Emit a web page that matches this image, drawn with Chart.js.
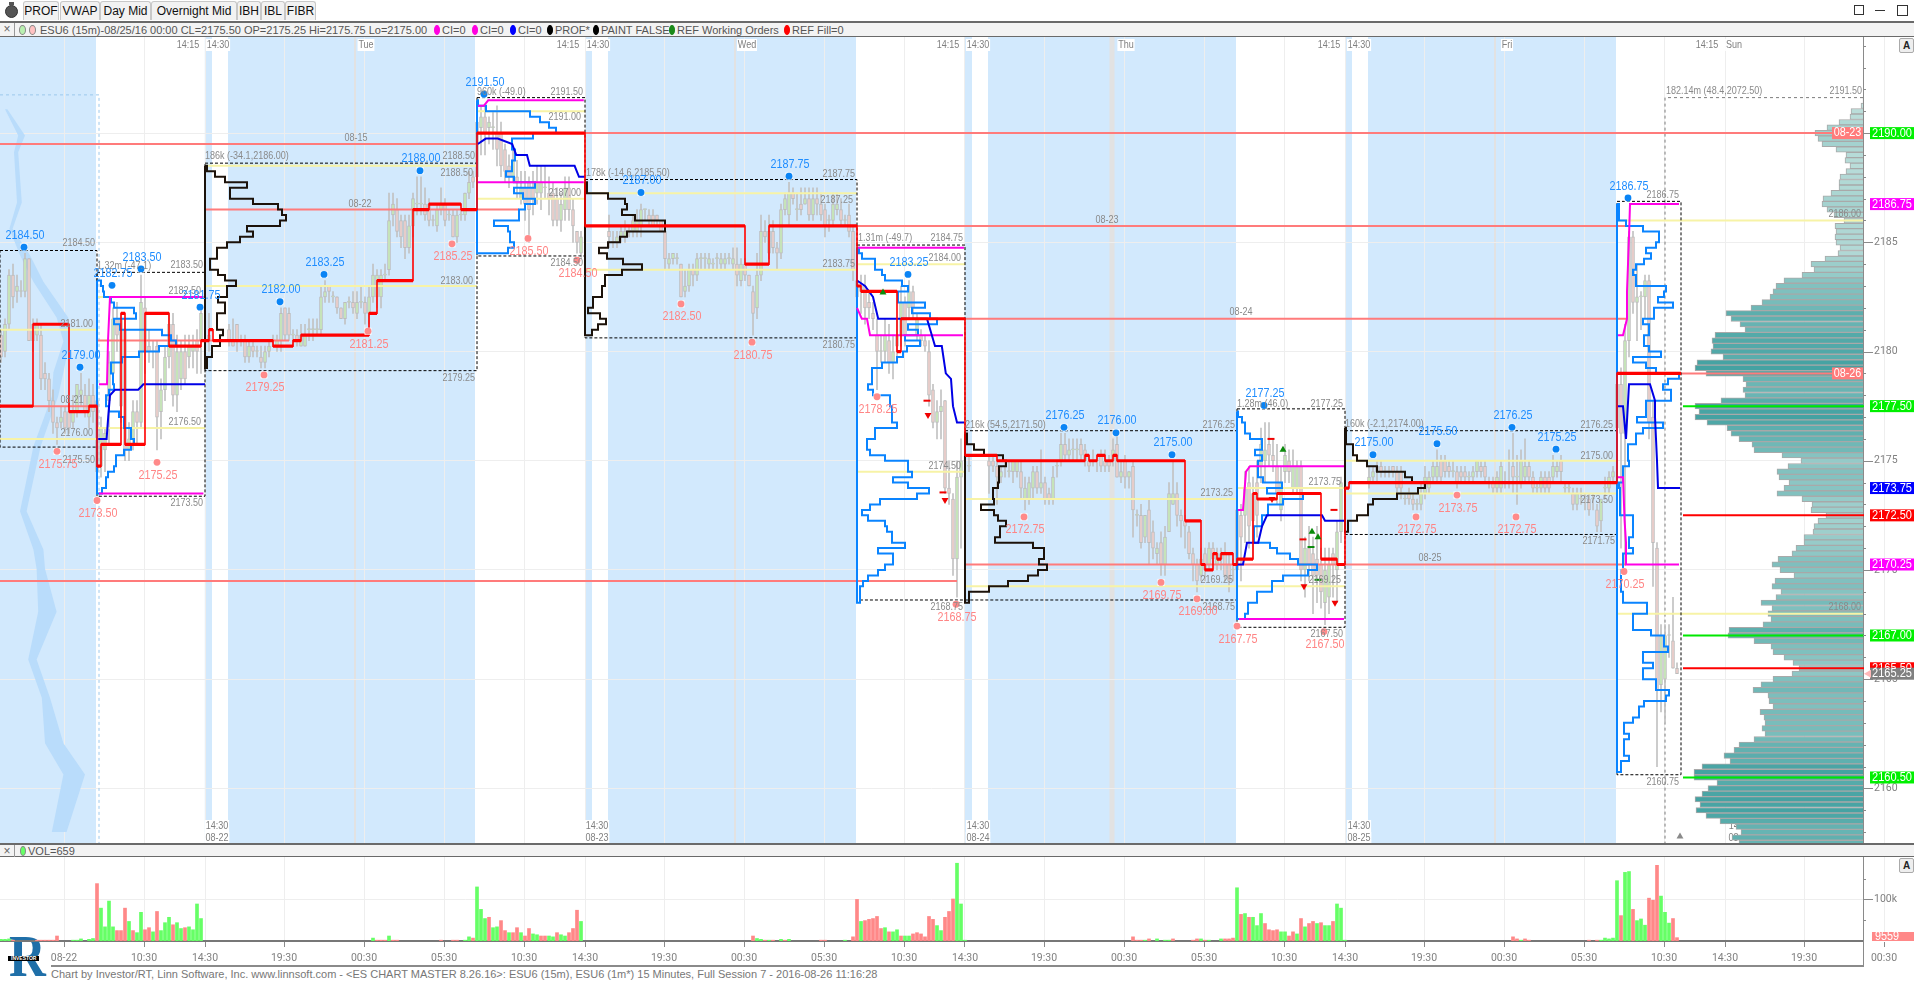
<!DOCTYPE html>
<html><head><meta charset="utf-8">
<script src="https://cdn.jsdelivr.net/npm/chart.js@4"></script>
<style>
html,body{margin:0;padding:0;width:1914px;height:982px;overflow:hidden;background:#fff;font-family:'Liberation Sans',sans-serif}
.abs{position:absolute;white-space:nowrap}
.btn{position:absolute;top:1px;height:19px;line-height:19px;background:#f2f2f2;border:1px solid #c8c8c8;border-bottom:none;border-radius:3px 3px 0 0;text-align:center;font-size:12px;color:#111;box-sizing:border-box}
.bar{position:absolute;left:0;width:1914px;background:#f3f3f3;border-top:2px solid #6a6a6a;border-bottom:1px solid #6a6a6a;box-sizing:border-box}
.lg{position:absolute;top:24px;font-size:11px;line-height:13px;color:#555;white-space:nowrap}
.dot{position:absolute;top:25px;width:6px;height:10px;border-radius:50%;border:1px solid #888;box-sizing:border-box}
.abtn{position:absolute;left:1899px;width:13px;height:13px;border:1px solid #aaa;border-radius:2px;background:#eee;font:bold 10px 'Liberation Sans';text-align:center;line-height:13px;color:#222}
canvas{position:absolute}
</style></head><body>
<script>
/* ---------- price / bar-index ranges ---------- */
const firstBar=-0.25, lastBar=465.5, priceMin=2157.5, priceMax=2194.4;
const priceTickValues=[2158,2159,2160,2161,2162,2163,2164,2165,2166,2167,2168,2169,2170,2171,2172,2173,2174,2175,2176,2177,2178,2179,2180,2181,2182,2183,2184,2185,2186,2187,2188,2189,2190,2191,2192,2193,2194];
const timeTickBars=[15.75,35.75,51,70.75,90.75,110.75,130.75,146,165.75,185.75,205.75,225.75,241,260.75,280.75,300.75,320.75,336,355.75,375.75,395.75,415.75,431,450.75,470.75];
const timeTickLabels=['08-22','10:30','14:30','19:30','00:30','05:30','10:30','14:30','19:30','00:30','05:30','10:30','14:30','19:30','00:30','05:30','10:30','14:30','19:30','00:30','05:30','10:30','14:30','19:30','00:30'];
const overnightBands=[[-0.25,23.75],[50.95,52.75],[56.75,118.5],[146,147.75],[151.75,213.75],[241,242.75],[246.75,308.75],[336,337.75],[341.75,403.75]];
const sessionStripes=[[88.5,2],[183.5,2],[277.75,5],[373.5,2]];

/* ---------- candles: [open, high, low, close] ---------- */
const barsOvernight0=[[2180.75,2181,2179.5,2179.75],[2180,2181.5,2179.75,2181.25],[2181.25,2183.75,2181,2183.5],[2183.5,2184,2182,2182.5],[2182.75,2183.5,2182.25,2183],[2182.75,2183.25,2182.5,2182.75],[2182.75,2184.5,2182.5,2184.25],[2184.25,2184.25,2180.5,2180.5],[2181.25,2181.5,2180,2180.5],[2180.75,2181.5,2180.5,2181.25],[2180.75,2181.25,2178.25,2178.75],[2179,2179.5,2178.25,2178.75],[2178.75,2179,2177.25,2177.75],[2177.75,2178.25,2176.25,2176.75],[2176.75,2177,2175.75,2176.5],[2176.75,2177.5,2176.5,2177],[2177.25,2177.5,2176.25,2176.5],[2177.25,2178,2176.25,2176.5],[2176.75,2178,2176.5,2177.25],[2177.25,2178.5,2177,2178.5],[2178,2179,2177.5,2178.25],[2178,2178.5,2177,2177.25],[2177,2178.75,2176.5,2178],[2178,2178.5,2176.75,2177.25]];
const barsDay1=[[2177.75,2178.25,2173.5,2174.5],[2174.75,2177,2174.25,2176.5],[2175.5,2176.5,2174.5,2176.25],[2177.75,2180,2175.75,2179.5],[2179,2182,2178.5,2181.5],[2181.5,2182.25,2180,2180.75],[2181.5,2181.75,2176.75,2177.5],[2181,2181.5,2175,2175.5],[2175.5,2176.75,2175,2176],[2176,2177.75,2175.5,2177.25],[2177.25,2177.75,2175.75,2176.75],[2176.75,2183.5,2176.5,2182.25],[2182,2182.5,2179,2180],[2180.25,2181,2179.5,2180],[2180,2180.5,2179.25,2180],[2180.25,2180.5,2175.5,2177],[2177.25,2178.75,2176,2178.25],[2178.25,2180.25,2177.75,2179.75],[2179.75,2181.75,2179.25,2181.25],[2181.25,2181.75,2177.5,2178],[2178,2180.75,2177.25,2180],[2178.75,2180.5,2178.25,2180],[2180,2180.75,2178.5,2178.75],[2179.75,2180.75,2179.25,2180.25],[2180,2180.75,2179.25,2180.25],[2180.5,2181,2179,2180],[2180.5,2182,2179,2181.75]];
const barsBreak1=[[2180.5,2181.75,2180,2180.75]];
const barsOvernight1=[[2181,2181.25,2180.25,2180.5],[2180.5,2181.5,2180.25,2180.25],[2181.25,2181.25,2180,2180.5],[2180.5,2180.75,2180.25,2180.5],[2180.5,2180.75,2179.5,2179.75],[2179.75,2180.5,2179.5,2180.25],[2180.25,2180.5,2179.75,2180],[2180,2180.25,2179.75,2180],[2179.75,2180.25,2179.25,2179.5],[2179.5,2180.25,2179.25,2180],[2180,2180.5,2179.75,2180.25],[2180.5,2180.75,2180.25,2180.5],[2180.25,2180.75,2180,2180.5],[2180.5,2182,2180,2181.75],[2182,2182,2180.5,2180.75],[2181.75,2182,2180.5,2180.75],[2180.75,2181,2180.25,2180.75],[2180.75,2181,2180.25,2180.5],[2180.25,2181.25,2180.25,2180.75],[2180.25,2181.25,2180.25,2180.75],[2181,2181.5,2180.5,2181],[2181,2181.5,2180.5,2181],[2181,2181.5,2180.75,2181],[2181,2183,2180.75,2182.5],[2182.5,2183.25,2182.25,2182.75],[2183,2183,2182.25,2182.75],[2182.5,2182.75,2182.25,2182.5],[2182.5,2182.5,2181.75,2182],[2182,2182,2181.5,2181.5],[2181.5,2182.25,2181.25,2182.25],[2182.25,2182.5,2182,2182.25],[2182.25,2182.75,2181.75,2182],[2181.75,2182.75,2181.5,2182.25],[2182.25,2183,2182,2182.25],[2182.25,2182.5,2181.25,2181.75],[2181.75,2183,2181.25,2182.5],[2182.5,2184,2182.25,2183.5],[2182.5,2183.75,2182,2183.5],[2182.5,2183.75,2182,2183.5],[2183.5,2184,2183.25,2183.5],[2183.75,2187.25,2183.5,2186],[2186.25,2187.25,2185.75,2186.75],[2186.5,2187,2185.25,2185.5],[2186,2186.25,2184.75,2185.25],[2186,2186.25,2184.25,2184.75],[2184.75,2186.25,2184.5,2185.75],[2185.75,2187.25,2185.25,2187],[2186.75,2188,2186.25,2186.75],[2186.75,2188,2186.25,2186.75],[2186.75,2187.5,2186,2186.25],[2186.75,2187,2185.75,2186],[2186,2186.25,2185.75,2186],[2185.75,2186.75,2185.5,2186.5],[2186.5,2187.5,2186.25,2186.75],[2186.75,2187,2185.75,2186],[2186.25,2186.5,2186,2186.25],[2186.25,2186.5,2185.25,2185.25],[2185.25,2186.5,2185,2186.25],[2186.25,2186.5,2186,2186.25],[2186.25,2187.25,2186,2187.25],[2187.25,2188.25,2187,2187.75],[2188,2188.25,2187.5,2187.75]];
const barsDay2=[[2188,2191.5,2187.75,2190.5],[2190.25,2191.25,2189,2190.75],[2190.75,2191.25,2189,2190],[2190.25,2190.75,2189.5,2190.5],[2190.25,2191,2189.25,2190.25],[2190,2191.25,2188.5,2189.25],[2190,2190.5,2188,2188.5],[2189.25,2189.5,2187.75,2188.25],[2188.5,2189,2187.5,2188],[2188,2189.25,2187.75,2188.75],[2188,2188.75,2187,2187.75],[2187,2188.25,2186.75,2187.5],[2187.5,2188.25,2186,2186.75],[2187.75,2188,2185,2186.5],[2187.5,2188.25,2186.25,2187],[2187.25,2188.5,2186.75,2187.75],[2187.25,2188.5,2186.5,2187.75],[2187.5,2188.5,2187,2187.5],[2187.25,2188,2186.25,2187],[2187.25,2187.75,2185.75,2186],[2187,2187.5,2185.75,2186],[2186,2187.25,2185.5,2186.75],[2186.5,2188,2186,2187.5],[2187.5,2188,2186,2186.5],[2186.5,2187,2185,2185.75],[2185.5,2185.5,2184.5,2185],[2184.5,2185.5,2184.25,2185.25]];
const barsOvernight2=[[2185.5,2186.25,2184.75,2185.25],[2185,2185.5,2184.75,2185],[2185,2185.5,2184.75,2185.25],[2185.25,2185.75,2185,2185.5],[2185.25,2186,2185,2185.5],[2185.5,2185.75,2185.25,2185.5],[2185.5,2186.25,2185.25,2186],[2185.5,2186.5,2185.25,2186],[2185.75,2186.75,2185.25,2186.5],[2186.5,2186.5,2186,2186.5],[2186.25,2186.5,2185.75,2186],[2186.25,2186.5,2185.75,2185.75],[2186.25,2186.25,2185.75,2186],[2186,2186,2185.5,2185.5],[2185.5,2185.75,2183.75,2184.25],[2184,2184.5,2183.75,2184.25],[2184.25,2184.5,2184,2184.5],[2184.25,2184.5,2184,2184.25],[2184,2184,2182.5,2182.5],[2182.75,2183.75,2182.5,2183],[2183,2184,2182.75,2183.75],[2183.75,2184,2183,2183.5],[2183.5,2184.5,2183.25,2184.25],[2184.25,2184.5,2183.75,2184.25],[2184.25,2184.5,2183.75,2184.25],[2184,2184.5,2183.75,2184.25],[2184,2184.25,2183.75,2184],[2184.25,2184.5,2183.75,2184.25],[2184,2184.5,2183.75,2184.25],[2184,2184.5,2183.75,2184.25],[2184.25,2184.5,2184,2184.25],[2184,2184.75,2183.75,2184.25],[2184,2184.75,2183,2183.5],[2183.25,2184.25,2183,2184],[2184,2184.25,2183.25,2183.5],[2183.5,2183.5,2183,2183],[2182.75,2183,2180.75,2181.75],[2182,2184.5,2181.5,2183.5],[2183.5,2186.25,2183.25,2185.5],[2185.5,2186,2185,2185.25],[2184.5,2186.25,2184.25,2185.5],[2185.5,2186,2184.5,2184.75],[2184.75,2185,2183.75,2184.5],[2184.5,2186.75,2184.25,2186.5],[2186.5,2187.25,2186.25,2187],[2186.25,2187.75,2185.75,2187.25],[2187.25,2187.5,2186.75,2187],[2186.5,2187.25,2186,2186.5],[2186.75,2187.5,2186.25,2186.5],[2186.75,2187.5,2186.75,2187],[2187,2187.5,2186,2186.25],[2186.25,2187.5,2186,2187],[2187,2187.5,2186.25,2186.75],[2186.75,2187.25,2186,2186.25],[2186.5,2186.75,2185.25,2185.75],[2186,2186.25,2185.5,2186],[2186,2187.25,2185.75,2186.75],[2186.5,2187.25,2186.25,2186.75],[2186.5,2187,2185.75,2186],[2186,2186.25,2185.75,2186],[2186.25,2186.75,2185.25,2185.5],[2185.5,2185.75,2183.25,2183.75]];
const barsDay3=[[2183.25,2183.75,2181.75,2182.5],[2182.75,2183.5,2181.75,2183],[2183,2183.5,2181.25,2182],[2182.25,2182.75,2181.5,2182],[2181.75,2182.25,2181,2181.5],[2180.75,2181.5,2178.25,2180],[2180,2180.75,2179.5,2180],[2180,2181.5,2179.5,2180.75],[2180.5,2181.25,2179,2179.5],[2179.5,2180.75,2178.75,2180],[2180.75,2181.5,2179.75,2180.25],[2180.75,2183,2180.25,2182.25],[2182.25,2182.5,2180.25,2180.75],[2182,2183.25,2181.5,2182.75],[2182.75,2183,2181.5,2182],[2180.75,2181.75,2180.5,2181.5],[2180.75,2181,2180.25,2180.5],[2180.5,2180.75,2180,2180.25],[2180,2180.5,2177.5,2178],[2178.25,2178.5,2176.5,2176.75],[2176.75,2177.75,2176,2177.25],[2177.25,2178.25,2176,2177.5],[2177.75,2177.75,2173.5,2173.75],[2173.75,2175,2173,2173.5],[2173.25,2173.5,2169.75,2170.5],[2170.5,2175,2168.75,2174.25],[2174.25,2176,2171,2175]];
const barsBreak3=[[2174.75,2175.25,2174.5,2174.75]];
const barsOvernight3=[[2175,2175.25,2173.5,2174.75],[2175,2175.25,2174.5,2174.75],[2174.75,2175,2173,2174.25],[2174.25,2174.75,2174,2174.5],[2174.75,2175,2174.25,2174.75],[2174.5,2175,2174.25,2174.5],[2174.5,2175,2174,2175],[2174.5,2175,2174.25,2175],[2174.5,2175,2173.25,2173.75],[2173.25,2174.25,2172.75,2173.75],[2173.25,2174.25,2173,2174],[2173.75,2174.75,2173.25,2174.5],[2174.5,2174.75,2173.5,2173.75],[2173.75,2175.5,2173.5,2174],[2174,2174.25,2173,2173.25],[2173.5,2173.75,2173,2173.25],[2173.25,2174.75,2173,2174.25],[2174.75,2175,2174.25,2174.75],[2175,2176.25,2174.75,2175.75],[2175.75,2176.25,2175,2175.25],[2175.25,2176,2175,2175.5],[2175.5,2176,2175,2175.5],[2175.5,2176,2175,2175.5],[2175.75,2176,2175,2175.25],[2175.5,2175.75,2174.75,2175],[2175,2175.25,2174.5,2174.75],[2175,2175.5,2174.75,2175],[2175,2175.25,2174.5,2175],[2175.25,2175.5,2174.5,2174.75],[2175,2175.5,2174.5,2174.75],[2175,2175.25,2174.5,2174.75],[2175,2176,2174.75,2175.5],[2175.75,2176.25,2174.25,2174.25],[2174.25,2175,2174,2174.5],[2175,2175.25,2173.75,2174.25],[2174.25,2174.5,2173.75,2174.5],[2174.75,2175,2171.5,2172.75],[2172.5,2172.75,2172,2172.5],[2172.5,2173,2171,2171.25],[2171.5,2172.5,2171.25,2172.5],[2172.75,2173.25,2170.25,2171.25],[2171.75,2172.25,2170.5,2171],[2170.75,2171.25,2170.25,2171],[2171.25,2171.75,2169.75,2170.25],[2170.25,2172,2169.75,2171.5],[2171.75,2174,2171.75,2173.5],[2173,2175,2173,2173.5],[2173.5,2174,2172,2172.5],[2172.5,2172.75,2171.5,2172.25],[2172.25,2172.5,2171,2172],[2171.75,2172,2170.5,2170.75],[2170.75,2171,2169.5,2170.25],[2170.25,2170.5,2169,2169.5],[2169.75,2171,2169.5,2170.5],[2170.75,2171,2169.5,2170],[2170.25,2171.25,2170,2171],[2171,2171.25,2170.25,2170.5],[2170.25,2171,2170,2170.75],[2170.5,2171,2170,2170.75],[2170.75,2171.25,2169.5,2169.75],[2170.25,2170.75,2169,2169.5],[2170,2170.5,2169.5,2170]];
const barsDay4=[[2170,2173.25,2168.75,2172.75],[2172.5,2173,2169.5,2171.5],[2172.5,2174.5,2171.25,2173.75],[2174,2174.75,2171,2172],[2173.5,2174.25,2170.5,2172.25],[2174,2175,2171.5,2172.5],[2174.75,2176.5,2174,2175.75],[2175,2176.75,2174,2175.5],[2175.75,2176.75,2174.75,2175.25],[2175.25,2176,2174.5,2175],[2174.75,2175.75,2173,2173.5],[2172.75,2174.75,2172.25,2174],[2174.5,2175.75,2174,2175.25],[2175,2175.5,2174,2174.5],[2173.75,2175.5,2173.5,2174.75],[2173.75,2175,2173.5,2174.75],[2174.75,2175,2169.5,2170],[2170,2171.5,2168.75,2171],[2171,2172,2169.5,2170.25],[2170.75,2171.5,2168,2169.75],[2170.5,2172,2168.5,2169.75],[2170.25,2171,2168.25,2169],[2168.5,2171,2167.5,2170],[2168.75,2171,2168,2170.25],[2170.75,2171,2168.75,2170.25],[2170,2172.25,2168.5,2171.75],[2171.75,2174.25,2171.25,2174]];
const barsOvernight4=[[2174,2174.75,2173.75,2174.25],[2174.25,2174.75,2174,2174.5],[2174.5,2175,2174,2174.75],[2174.75,2175,2174.25,2174.5],[2174.5,2174.75,2174.25,2174.5],[2174.5,2174.75,2174.25,2174.5],[2174.75,2174.75,2174.25,2174.5],[2174.5,2174.75,2173.5,2173.75],[2174.5,2174.75,2173.25,2173.75],[2173.25,2173.5,2173,2173.25],[2173.5,2173.75,2173,2173.25],[2173.25,2173.5,2172.75,2173],[2173,2173.25,2172.75,2173],[2173,2174,2172.75,2173.5],[2173.5,2174.75,2173.25,2174.25],[2173.75,2174.5,2173.5,2174.25],[2174.25,2175,2174,2174.75],[2174.25,2175.5,2174,2174.75],[2175,2175.25,2174,2174.25],[2175,2175.25,2174.25,2174.5],[2174.75,2175,2174.25,2174.5],[2174.5,2175,2174.25,2174.5],[2174.5,2174.75,2173.75,2174],[2174.5,2174.75,2174,2174.25],[2174.5,2174.75,2174,2174.25],[2174.25,2174.5,2174,2174.25],[2174.25,2174.75,2174,2174.5],[2174.5,2175,2174.25,2175],[2174.75,2175,2174.25,2174.5],[2174.75,2175,2174,2174.25],[2174,2174.25,2173.75,2174],[2174,2174.25,2173.5,2173.75],[2173.75,2174.5,2173.5,2174.25],[2173.75,2175,2173.5,2174.75],[2174,2174.5,2173.75,2174],[2174,2175.5,2173.75,2174],[2174.75,2176.25,2173.5,2174.25],[2174.25,2175.25,2173,2174.25],[2174,2175.5,2173.75,2175],[2174.25,2176,2174,2174.75],[2174.75,2175,2174,2174.25],[2174.25,2174.5,2173.5,2173.75],[2173.75,2174,2173.5,2173.75],[2173.75,2174.5,2173.5,2174.25],[2174.25,2174.5,2173.5,2173.75],[2174.25,2174.5,2173.5,2173.75],[2174.25,2175.25,2174,2174.75],[2174.5,2175,2174.25,2174.75],[2175,2175.25,2174,2174.5],[2173.75,2174,2173.5,2173.75],[2173.75,2174,2173.5,2173.75],[2173.5,2173.75,2172.75,2173],[2173,2173.75,2172.75,2173.5],[2173.25,2173.75,2173,2173.25],[2173.25,2173.5,2172.75,2173.25],[2173.25,2173.5,2172.5,2172.75],[2173.25,2173.5,2172.75,2173.25],[2172.75,2173,2171.75,2172],[2172.25,2173.25,2171.75,2173.25],[2173.75,2174.25,2173.25,2173.75],[2173.75,2174.5,2173.5,2174.25],[2174.25,2174.75,2174,2174.5]];
const barsDay5=[[2176.5,2179,2173.75,2178.5],[2178.5,2179.25,2171,2176.25],[2176.25,2181.25,2170.25,2180.5],[2180.5,2185.5,2179.75,2185.25],[2185.25,2185.5,2181.75,2182.25],[2182.25,2184,2180.5,2182.5],[2182.5,2182.75,2181,2182.5],[2182.5,2183.5,2181.5,2183.25],[2183.25,2183.5,2176,2176.75],[2177,2177.75,2169.25,2171.25],[2171,2171.25,2161,2164.5],[2164.75,2167.5,2163.5,2167],[2165,2167.5,2163,2167],[2167,2167.5,2166,2167],[2166.75,2168.75,2165.5,2165.5],[2165.5,2165.75,2165.25,2165.25]];
const candleRuns=[[0,barsOvernight0],[24,barsDay1],[52,barsBreak1],[57,barsOvernight1],[119,barsDay2],[152,barsOvernight2],[214,barsDay3],[242,barsBreak3],[247,barsOvernight3],[309,barsDay4],[342,barsOvernight4],[404,barsDay5]];

/* ---------- volume in thousands: [bar, volume] ---------- */
const volUp=[[0,4],[1,4],[2,5],[18,2],[19,2],[20,5],[22,4],[23,6],[25,79],[26,34],[27,96],[28,34],[32,47],[34,20],[35,69],[38,22],[40,25],[41,44],[42,57],[44,44],[45,30],[47,34],[48,27],[49,89],[50,54],[93,7],[97,12],[116,2],[117,10],[119,130],[120,76],[121,54],[123,32],[124,34],[127,20],[130,20],[133,17],[134,15],[137,12],[138,10],[140,15],[141,12],[145,47],[189,6],[190,4],[192,2],[195,4],[197,4],[211,2],[215,47],[221,32],[223,22],[224,27],[226,12],[227,12],[234,37],[235,25],[239,187],[240,89],[241,2],[286,2],[289,5],[291,2],[292,2],[300,5],[302,2],[305,5],[309,128],[311,66],[313,57],[314,37],[315,66],[320,22],[321,22],[324,17],[326,34],[329,42],[331,37],[332,37],[334,89],[335,79],[336,2],[380,2],[400,2],[401,7],[402,5],[403,7],[404,145],[406,165],[407,167],[409,49],[410,53],[411,38],[415,108],[416,69],[417,43]];
const volDown=[[3,2],[9,2],[10,2],[11,2],[12,2],[13,2],[14,12],[24,138],[29,25],[30,25],[31,79],[33,25],[36,27],[37,32],[39,71],[43,39],[46,32],[94,2],[95,2],[96,2],[98,2],[99,2],[110,2],[113,2],[114,2],[118,7],[122,57],[125,49],[126,25],[128,20],[129,32],[131,12],[132,30],[135,12],[136,12],[139,20],[142,20],[143,30],[144,74],[188,12],[191,2],[193,2],[196,2],[205,2],[206,2],[213,10],[214,100],[216,49],[217,52],[218,54],[219,59],[220,30],[222,22],[225,12],[228,17],[229,20],[230,17],[231,10],[232,59],[233,52],[236,57],[237,71],[238,101],[283,10],[284,2],[285,2],[287,5],[293,5],[298,2],[299,5],[301,2],[306,5],[307,5],[308,7],[310,64],[312,57],[316,42],[317,27],[318,25],[319,27],[322,12],[323,22],[325,54],[327,42],[328,47],[330,44],[333,47],[378,10],[379,5],[381,5],[382,2],[397,2],[399,2],[405,61],[408,76],[412,103],[413,98],[414,182],[418,54],[419,8]];
const volTickValues=[50,100,150];

/* ---------- composite volume at price, top to bottom ---------- */
const profilePrices=[2191.5,2191.25,2191,2190.75,2190.5,2190.25,2190,2189.75,2189.5,2189.25,2189,2188.75,2188.5,2188.25,2188,2187.75,2187.5,2187.25,2187,2186.75,2186.5,2186.25,2186,2185.75,2185.5,2185.25,2185,2184.75,2184.5,2184.25,2184,2183.75,2183.5,2183.25,2183,2182.75,2182.5,2182.25,2182,2181.75,2181.5,2181.25,2181,2180.75,2180.5,2180.25,2180,2179.75,2179.5,2179.25,2179,2178.75,2178.5,2178.25,2178,2177.75,2177.5,2177.25,2177,2176.75,2176.5,2176.25,2176,2175.75,2175.5,2175.25,2175,2174.75,2174.5,2174.25,2174,2173.75,2173.5,2173.25,2173,2172.75,2172.5,2172.25,2172,2171.75,2171.5,2171.25,2171,2170.75,2170.5,2170.25,2170,2169.75,2169.5,2169.25,2169,2168.75,2168.5,2168.25,2168,2167.75,2167.5,2167.25,2167,2166.75,2166.5,2166.25,2166,2165.75,2165.5,2165.25,2165,2164.75,2164.5,2164.25,2164,2163.75,2163.5,2163.25,2163,2162.75,2162.5,2162.25,2162,2161.75,2161.5,2161.25,2161,2160.75,2160.5,2160.25,2160,2159.75,2159.5,2159.25,2159,2158.75,2158.5,2158.25,2158,2157.75,2157.5];
const profileVolumes=[1,3,13,14,25,37,49,46,42,28,18,19,14,18,24,25,25,33,41,42,37,30,20,29,28,29,28,24,26,39,53,50,62,80,88,91,94,102,113,138,133,124,119,149,152,151,153,141,167,169,158,121,118,121,119,143,169,165,169,157,137,133,125,112,110,82,63,76,87,85,75,80,87,62,52,53,38,46,50,51,60,60,68,72,86,92,84,70,89,92,83,88,103,92,96,93,101,135,136,110,93,91,80,71,65,72,91,103,111,96,95,91,104,100,99,102,99,110,125,130,140,134,162,170,170,147,156,162,169,164,168,158,144,128,123,132,125];

/* ---------- session TPO outlines: [price, count] ---------- */
const profileBlue1=[[2183.25,4],[2183,6],[2182.75,7],[2182.5,14],[2182.25,17],[2182,37],[2181.75,39],[2181.5,17],[2181.25,23],[2181,65],[2180.75,74],[2180.5,79],[2180.25,62],[2180,42],[2179.75,25],[2179.5,14],[2179,16],[2178.5,17],[2178.25,12],[2178,9],[2177.5,12],[2177.25,22],[2177,27],[2176.5,34],[2176,37],[2175.75,34],[2175.5,27],[2175.25,19],[2174.75,17],[2174.5,11],[2174.25,9],[2173.75,5],[2173.5,1]];
const profileBlue2=[[2191.5,1],[2191.25,9],[2191,53],[2190.75,63],[2190.5,72],[2190.25,79],[2190,56],[2189.75,35],[2189.25,38],[2188.75,35],[2188.25,29],[2188,37],[2187.75,58],[2187.5,37],[2187.25,46],[2187,58],[2186.75,48],[2186.5,42],[2186,17],[2185.75,31],[2185.5,33],[2185,37],[2184.75,31],[2184.5,1]];
const profileBlue3=[[2184.75,2],[2184.5,5],[2184.25,18],[2183.75,25],[2183.5,28],[2183.25,45],[2183,51],[2182.75,41],[2182.25,68],[2182,55],[2181.75,73],[2181.5,80],[2181.25,51],[2181,61],[2180.75,48],[2180.5,63],[2180.25,50],[2180,46],[2179.75,40],[2179.5,25],[2179.25,15],[2178.5,11],[2178.25,16],[2178,33],[2177.5,35],[2176.75,40],[2176.5,18],[2176,10],[2175.5,13],[2175.25,28],[2175,51],[2174.5,55],[2174.25,36],[2174,51],[2173.75,72],[2173.5,60],[2173.25,23],[2173,13],[2172.75,5],[2172.5,11],[2172.25,28],[2172,30],[2171.75,35],[2171.25,48],[2171,21],[2170.75,36],[2170.25,28],[2170,21],[2169.75,11],[2169.5,6],[2169.25,3],[2168.5,0]];
const profileBlue4=[[2177.25,1],[2177,5],[2176.75,8],[2176.25,13],[2176,25],[2175.5,18],[2175.25,25],[2175,21],[2174.25,26],[2174,45],[2173.75,30],[2173.5,66],[2173.25,46],[2173,31],[2172.5,25],[2172,17],[2171.25,33],[2171,40],[2170.75,53],[2170.5,61],[2170.25,80],[2170,71],[2169.75,46],[2169.5,35],[2169,20],[2168.5,11],[2168,8],[2167.75,1]];
const profileBlue5=[[2186.75,2],[2186,9],[2185.75,26],[2185.5,42],[2185,39],[2184.75,29],[2184.5,34],[2184.25,27],[2184,19],[2183.75,16],[2183.5,19],[2183,49],[2182.75,47],[2182.5,41],[2182.25,56],[2182,37],[2181.5,26],[2181.25,32],[2180.75,27],[2180.25,32],[2180,44],[2179.75,16],[2179.5,29],[2179.25,39],[2179,62],[2178.75,51],[2178.5,46],[2178.25,54],[2177.75,29],[2177,20],[2176.75,46],[2176.5,26],[2176.25,19],[2175.75,11],[2175,12],[2174.75,6],[2174,2],[2173.75,3],[2172.5,16],[2171.5,12],[2171,16],[2170.75,6],[2170,4],[2169.25,4],[2169,6],[2168.5,30],[2168,16],[2167.25,34],[2167,47],[2166.5,51],[2166.25,26],[2165.75,36],[2165.5,26],[2165,39],[2164.5,52],[2164.25,49],[2164,27],[2163.75,22],[2163.25,16],[2163,7],[2162.5,12],[2162.25,7],[2161.5,12],[2161.25,4],[2160.75,1]];
const profileBlack1=[[2188.5,2],[2188.25,10],[2188,20],[2187.75,42],[2187.5,25],[2187,48],[2186.75,73],[2186.5,77],[2186.25,81],[2186,75],[2185.75,42],[2185.5,48],[2185.25,35],[2185,22],[2184.75,12],[2184.25,5],[2183.75,13],[2183.5,20],[2183.25,31],[2183,22],[2182.5,13],[2182.25,20],[2181.75,12],[2181,18],[2180.75,15],[2180.25,7],[2179.75,2],[2179.25,0]];
const profileBlack2=[[2187.75,2],[2187.25,23],[2187,40],[2186.75,42],[2186.5,37],[2186.25,50],[2186,80],[2185.5,42],[2185.25,35],[2185,23],[2184.75,14],[2184.5,22],[2184.25,38],[2184,57],[2183.75,37],[2183.5,20],[2183,17],[2182.5,8],[2182,3],[2181.75,15],[2181.5,21],[2181.25,13],[2181,7],[2180.75,2]];
const profileBlack3=[[2176.25,2],[2175.75,9],[2175.5,19],[2175.25,38],[2175,41],[2174.75,34],[2174,33],[2173.75,28],[2173.25,29],[2173,16],[2172.75,29],[2172.5,33],[2172.25,41],[2172,35],[2171.5,30],[2171.25,68],[2171,79],[2170.5,74],[2170.25,82],[2170,73],[2169.75,63],[2169.5,43],[2169.25,24],[2169,4],[2168.5,1]];
const profileBlack4=[[2176.5,1],[2175.75,8],[2175.25,12],[2175,22],[2174.75,32],[2174.5,60],[2174.25,67],[2174,80],[2173.75,73],[2173.5,52],[2173.25,28],[2173,23],[2172.5,12],[2172.25,3],[2171.75,1]];
const outlineRuns=[[24,profileBlue1,'blue'],[119,profileBlue2,'blue'],[214,profileBlue3,'blue'],[309,profileBlue4,'blue'],[404,profileBlue5,'blue'],[51,profileBlack1,'black'],[146,profileBlack2,'black'],[241,profileBlack3,'black'],[336,profileBlack4,'black']];

/* ---------- red developing mid: [startBar, endBar, price] ---------- */
const midSteps=[[-0.25,8,2177.5],[8,17,2181.25],[17,22,2177.25],[22,24,2177.5],[24,25,2174.75],[25,30,2175.75],[30,31,2181.75],[31,36,2175.75],[36,42,2181.75],[42,50,2180.25],[50,52,2180.5],[52,53,2181],[53,68,2180.5],[68,73,2180.25],[73,75,2180.5],[75,92,2180.75],[92,94,2181.75],[94,103,2183.25],[103,107,2186.5],[107,115,2186.75],[115,119,2186.5],[119,146,2190],[146,186,2185.75],[186,192,2184],[192,214,2185.75],[214,215,2183],[215,224,2182.75],[224,225,2180],[225,241,2181.5],[241,249,2175.25],[249,271,2175],[271,272,2175.25],[272,274,2175],[274,276,2175.25],[276,278,2175],[278,279,2175.25],[279,296,2175],[296,300,2172.25],[300,301,2170.25],[301,303,2170],[303,304,2170.75],[304,305,2170.5],[305,308,2170.75],[308,309,2170.25],[309,313,2170.5],[313,314,2173.5],[314,319,2173.25],[319,330,2173.5],[330,334,2170.5],[334,336,2170.25],[336,337,2173.75],[337,404,2174],[404,420,2179]];
/* dark blue developing POC and magenta session range: [bar, price] */
const pocBlue1=[[24.3,2176],[26.4,2176],[26.8,2177],[27.25,2178],[28.5,2178.25],[34.3,2178.25],[35.6,2178.5],[51,2178.5]];
const pocBlue2=[[119.2,2189.5],[121.2,2189.75],[124.2,2189.75],[127.8,2189.5],[128.8,2189],[131.5,2189],[132.2,2188.5],[143.4,2188.5],[144.5,2188],[146,2188]];
const pocBlue3=[[214,2183.25],[216,2183],[218,2182.5],[219.3,2181.5],[231.5,2181.5],[233.5,2180.25],[235.2,2180.25],[236.2,2179],[237.5,2178.75],[238,2177.5],[239,2176.75],[240.75,2176.75]];
const pocBlue4=[[309,2170.25],[310.5,2170.25],[311.5,2171.25],[314.3,2171.25],[315.25,2172],[316.5,2172.5],[330.25,2172.5],[331,2172.25],[335.75,2172.25]];
const pocBlue5=[[404.25,2177.5],[405.5,2177.5],[406.25,2176],[407,2178.5],[412.25,2178.5],[413.5,2177.75],[413.5,2177],[414,2175],[414.25,2173.75],[419.75,2173.75]];
const rangeTop=[[[24.5,2178.5],[26.5,2178.5],[26.75,2180.5],[27.25,2182.5],[50.6,2182.5]],[[119.25,2191.25],[120.7,2191.25],[121.8,2191.5],[145.7,2191.5]],[[214.3,2184.75],[240.75,2184.75]],[[309.25,2172.75],[310.5,2172.75],[311.25,2174.5],[312.25,2174.75],[335.75,2174.75]],[[404.25,2180.75],[405.5,2180.75],[406.5,2181.5],[406.5,2182.75],[406.75,2184],[407,2185.25],[407.25,2186.75],[419.5,2186.75]]];
const rangeLow=[[[24.5,2173.5],[50.6,2173.5]],[[119.25,2187.75],[145.7,2187.75]],[[214,2182],[215.2,2181.5],[216.5,2181.5],[217.25,2180.75],[240.5,2180.75]],[[309.5,2167.75],[335.75,2167.75]],[[404.25,2174.25],[405.5,2174.25],[405.9,2172.25],[406.25,2171.25],[406.25,2170.25],[419.5,2170.25]]];

/* ---------- horizontal reference levels: [startBar, endBar, price] ---------- */
const valueAreaLines=[[-0.25,24,2181],[-0.25,24,2176],[24,51,2182.5],[24,51,2176.5],[51,119,2188.5],[51,119,2183],[119,146,2191],[119,146,2187],[146,214,2187.25],[146,214,2183.75],[214,241,2184],[214,241,2174.5],[241,309,2173.25],[241,309,2169.25],[309,336,2173.75],[309,336,2169.25],[336,404,2175],[336,404,2173.5],[404,465.5,2186],[404,465.5,2168]];
const nakedPocLines=[[-0.25,119,2189.5],[51,129.5,2186.5],[146,465.5,2190],[214,407,2185.75],[241,406.5,2181.5],[-0.25,239,2169.5],[241,406.25,2170.25],[420,465.5,2179],[24,51,2180.5],[24,72,2180.5],[8,24,2177.5]];
const greenLevels=[2177.5,2167,2160.5];
const redLevels=[2172.5,2165.5];
const levelStartBar=420.5;
/* session boxes: [startBar, endBar, high, low] */
const sessionBoxes=[[-0.25,24,2184.5,2175.75],[24,51,2183.5,2173.5],[51,119,2188.5,2179.25],[119,146,2191.5,2184.5],[146,214,2187.75,2180.75],[214,241,2184.75,2168.75],[241,309,2176.25,2168.75],[309,336,2177.25,2167.5],[336,404,2176.25,2171.75],[404,420,2186.75,2160.75]];
const weekBox=[[465.5,2191.625],[416,2191.625],[416,2157.5]];
const priorWeekBox=[[-0.25,2191.75],[24.5,2191.75],[24.5,2157.5]];
/* prior profile ribbon at the far left: [bar, price] */
const ribbonRight=[[1.6,2191.09],[6,2189.89],[4.3,2189.12],[5.2,2186.82],[2.9,2185.62],[7.25,2184.41],[10.6,2183.2],[16.8,2181.56],[17.25,2180.47],[15.6,2179.05],[14.3,2177.95],[9.9,2175.65],[6.4,2172.69],[10.6,2170.94],[11,2170.06],[13.9,2168.09],[8.9,2165.9],[12.25,2164.15],[15.6,2162.07],[21,2160.64],[16.4,2158]];
const ribbonLeft=[[1,2191.09],[4.3,2189.89],[3.25,2189.12],[4,2186.82],[2.1,2185.62],[4.75,2184.41],[8.1,2183.2],[13.9,2181.56],[15.6,2180.47],[13.1,2179.05],[12.7,2177.95],[8.1,2175.65],[4.75,2172.69],[8.1,2170.94],[8.9,2170.06],[9.3,2168.09],[6.8,2165.9],[10.2,2164.15],[11,2162.07],[15.6,2160.64],[12.7,2158]];

/* ---------- swing highs and lows: [bar, price] ---------- */
const swingHighs=[[5.75,2184.5],[19.75,2179],[27.75,2182.75],[35,2183.5],[49.75,2181.75],[69.75,2182],[80.75,2183.25],[104.75,2188],[120.75,2191.5],[160,2187],[197,2187.75],[226.75,2183.25],[265.75,2176.25],[278.75,2176],[292.75,2175],[315.75,2177.25],[343,2175],[359,2175.5],[377.75,2176.25],[388.75,2175.25],[406.75,2186.75]];
const swingLows=[[14,2175.75],[24,2173.5],[39,2175.25],[65.75,2179.25],[91.75,2181.25],[112.75,2185.25],[131.75,2185.5],[144,2184.5],[170,2182.5],[187.75,2180.75],[219,2178.25],[238.75,2168.75],[255.75,2172.75],[290,2169.75],[299,2169],[309,2167.75],[330.75,2167.5],[353.75,2172.75],[364,2173.75],[378.75,2172.75],[405.75,2170.25]];
/* working-order marks: [bar, price] */
const orderDownArrows=[[231.75,2177.1],[236,2173.2],[317.75,2173.25],[325.75,2169.25],[333.5,2168.5]];
const orderUpArrows=[[220.5,2182.7],[320.5,2175.5],[327.75,2171.75],[329.25,2171.5]];
const orderRedDashes=[[231.5,2177.75],[235.5,2173.55],[317.5,2176],[325.5,2171.4],[333.25,2172.75]];
const orderGreenDashes=[[327.5,2171.05],[329.25,2169.55]];

/* ---------- text ---------- */
const greyNotes=[['2184.50',23.5,2184.96,'right'],['2181.00',23,2181.25,'right'],['08-21',17.75,2177.77,'center'],['2176.00',23,2176.26,'right'],['2175.50',23.5,2175.03,'right'],['1.32m (-47.1)',24,2183.91,'left'],['2183.50',50.5,2183.96,'right'],['2182.50',50,2182.77,'right'],['2176.50',50,2176.77,'right'],['2173.50',50.5,2173.06,'right'],['186k (-34.1,2186.00)',51,2188.95,'left'],['2188.50',118.5,2188.95,'right'],['2188.50',118,2188.18,'right'],['08-22',89.75,2186.75,'center'],['2183.00',118,2183.22,'right'],['2179.25',118.5,2178.78,'right'],['08-15',88.75,2189.77,'center'],['960k (-49.0)',119,2191.88,'left'],['2191.50',145.5,2191.88,'right'],['2191.00',145,2190.73,'right'],['2187.00',145,2187.25,'right'],['2184.50',145.5,2184.05,'right'],['178k (-14.6,2185.50)',146.25,2188.17,'left'],['2187.75',213.5,2188.12,'right'],['2187.25',213,2186.93,'right'],['2183.75',213.5,2184,'right'],['2180.75',213.5,2180.29,'right'],['08-23',276.5,2186.02,'center'],['1.31m (-49.7)',214.25,2185.19,'left'],['2184.75',240.5,2185.19,'right'],['2184.00',240,2184.28,'right'],['2174.50',240,2174.75,'right'],['2168.75',240.5,2168.3,'right'],['216k (54.5,2171.50)',241,2176.63,'left'],['2176.25',308.5,2176.63,'right'],['2173.25',308,2173.52,'right'],['2169.25',308,2169.53,'right'],['2168.75',308.5,2168.3,'right'],['08-24',310,2181.8,'center'],['1.28m (46.0)',309,2177.59,'left'],['2177.25',335.5,2177.59,'right'],['2173.75',335,2174.02,'right'],['2169.25',335,2169.53,'right'],['2167.50',335.5,2167.06,'right'],['160k (-2.1,2174.00)',336,2176.68,'left'],['2176.25',403,2176.63,'right'],['2175.00',403,2175.21,'right'],['2173.50',403,2173.2,'right'],['2171.75',403.5,2171.32,'right'],['08-25',357.25,2170.54,'center'],['2186.75',419.5,2187.16,'right'],['2160.75',419.5,2160.28,'right'],['182.14m (48.4,2072.50)',416.25,2191.92,'left'],['2191.50',465.25,2191.92,'right'],['2186.00',465,2186.29,'right'],['2168.00',465,2168.3,'right']];
const topTimeNotes=[['14:15',46.75],['14:30',54.25],['Tue',91.25],['14:15',141.75],['14:30',149.25],['Wed',186.5],['14:15',236.75],['14:30',244.25],['Thu',281.25],['14:15',332],['14:30',339.5],['Fri',376.5],['14:15',426.5],['Sun',433.25]];
const bottomDateNotes=[['14:30','08-22',54],['14:30','08-23',149],['14:30','08-24',244.25],['14:30','08-25',339.5],['14:30','08-26',434.75]];
const priceTags=[[2190,'2190.00','#00f000'],[2186.75,'2186.75','#ff00ff'],[2177.5,'2177.50','#00f000'],[2173.75,'2173.75','#0000ff'],[2172.5,'2172.50','#ff0000'],[2170.25,'2170.25','#ff00ff'],[2167,'2167.00','#00f000'],[2165.5,'2165.50','#ff0000'],[2165.25,'2165.25','#808080'],[2160.5,'2160.50','#00f000']];
const pocTags=[[2190,'08-23'],[2179,'08-26']];

const SANS="'Liberation Sans',sans-serif", AXISFONT="Roboto,'Liberation Sans',sans-serif";
const pts=r=>r.map(([x,y])=>({x,y}));
const C={blue:'#0a84ff',black:'#1c120a',navy:'#0000e6',mag:'#ff00e6',yellow:'#f7f3a6',salmon:'#ff7b7b',red:'#ff0000'};

function line(data,color,width,extra){return Object.assign({type:'line',data,borderColor:color,borderWidth:width,pointRadius:0,tension:0,fill:false,clip:false,parsing:true,order:10},extra||{})}
function hLines(rows){return rows.flatMap(([a,b,p])=>[{x:a,y:p},{x:b,y:p},{x:b,y:null}])}
function marks(rows,color,style,radius,rotation,order){return {type:'line',data:pts(rows),showLine:false,pointStyle:style,pointRadius:radius,pointRotation:rotation||0,pointBackgroundColor:color,pointBorderColor:color,pointBorderWidth:style==='line'?2:0,clip:false,order:order||3}}

/* candle series */
const wickData=[],bodyData=[],bodyColor=[];
candleRuns.forEach(([start,rows])=>rows.forEach(([o,h,l,c],k)=>{
  wickData.push({x:start+k,y:[l,h]});
  bodyData.push({x:start+k,y:[o,c]});
  bodyColor.push(c>=o?'#c8ebb8':'#efcfcc');
}));
function profileColor(v){const t=Math.min(1,v/170);const m=(a,b)=>Math.round(a+(b-a)*t);return `rgb(${m(196,68)},${m(226,162)},${m(222,162)})`}

const datasets=[];
const unitsPerBar=4;
datasets.push({type:'bar',indexAxis:'y',grouped:false,order:60,barThickness:5.46,borderWidth:1,borderColor:'#a9a9a9',borderSkipped:false,
  data:profilePrices.map((p,k)=>({y:p,x:[lastBar+0.25-profileVolumes[k]/unitsPerBar,lastBar+0.25]})),
  backgroundColor:profileVolumes.map(profileColor)});
datasets.push(line(pts(ribbonRight.concat(ribbonLeft.slice().reverse())),'rgba(0,0,0,0)',0,{fill:'shape',backgroundColor:'#b9dcfb',order:70}));
datasets.push(line(pts(priorWeekBox),'#9cc8ec',1,{borderDash:[3,3],order:65}));
datasets.push(line(pts(weekBox),'#7c7c7c',1,{borderDash:[3,3],order:55}));
datasets.push({type:'bar',grouped:false,order:50,barThickness:1,data:wickData,backgroundColor:'#c2c2c2'});
datasets.push({type:'bar',grouped:false,order:49,barThickness:3,minBarLength:1,borderWidth:1,borderSkipped:false,borderColor:'#bcbcbc',data:bodyData,backgroundColor:bodyColor});
datasets.push(line(hLines(valueAreaLines),C.yellow,2,{order:40}));
datasets.push(line(hLines(nakedPocLines),C.salmon,2,{order:39}));
sessionBoxes.forEach(([a,b,h,l])=>datasets.push(line(pts([[a,h+0.125],[b,h+0.125],[b,l-0.125],[a,l-0.125],[a,h+0.125]]),'#000',1,{borderDash:[3,2],order:30})));
outlineRuns.forEach(([base,rows,kind])=>{
  const p0=rows[0][0],pn=rows[rows.length-1][0];
  const d=[{x:base,y:p0},...rows.map(([p,v])=>({x:base+v/unitsPerBar,y:p})),{x:base,y:pn},{x:base,y:p0}];
  datasets.push(line(d,kind==='blue'?C.blue:C.black,2,{stepped:'after',order:kind==='blue'?20:21}));
});
rangeTop.concat(rangeLow).forEach(r=>datasets.push(line(pts(r),C.mag,2,{order:14})));
[pocBlue1,pocBlue2,pocBlue3,pocBlue4,pocBlue5].forEach(r=>datasets.push(line(pts(r),C.navy,2,{order:13})));
const midPath=midSteps.flatMap(([a,b,p])=>[{x:a,y:p},{x:b,y:p}]);
datasets.push(line(midPath,C.red,1.6,{order:8}));
datasets.push(line(hLines(midSteps),C.red,3.2,{order:7,borderCapStyle:'butt'}));
datasets.push(line(hLines(greenLevels.map(p=>[levelStartBar,lastBar+0.25,p])),'#00e800',2,{order:6}));
datasets.push(line(hLines(redLevels.map(p=>[levelStartBar,lastBar+0.25,p])),C.red,2,{order:6}));
const hiOff=0.28,loOff=-0.32;
const shift=(r,o)=>r.map(([b,p])=>[b,p+o]);
datasets.push(marks(shift(swingHighs,hiOff),'#ffffff','rect',5,0,5));
datasets.push(marks(shift(swingLows,loOff),'#ffffff','rect',5,0,5));
datasets.push(marks(shift(swingHighs,hiOff),'#0a84f5','circle',3.4,0,4));
datasets.push(marks(shift(swingLows,loOff),'#ff8a8a','circle',3.4,0,4));
datasets.push(marks(orderDownArrows,'#f00000','triangle',4,180));
datasets.push(marks(orderUpArrows,'#0a8a0a','triangle',4,0));
datasets.push(marks(orderRedDashes,'#f00000','line',3.5,0));
datasets.push(marks(orderGreenDashes,'#0a8a0a','line',3.5,0));
datasets.push(marks([[419.75,2157.8]],'#8a8a8a','triangle',4,0));

/* canvas text, squeezed horizontally to the reference's narrow bitmap face */
function txt(ctx,s,x,y,size,color,align,bg,sx){
  sx=sx||0.82;
  ctx.save();
  ctx.translate(x,y);ctx.scale(sx,1);
  ctx.font=size+'px '+SANS;ctx.textAlign=align||'left';ctx.textBaseline='middle';
  if(bg){const w=ctx.measureText(s).width;const l=align==='center'?-w/2:align==='right'?-w:0;ctx.fillStyle=bg;ctx.fillRect(l-1,-6,w+2,12);}
  ctx.fillStyle=color;ctx.fillText(s,0,0);
  ctx.restore();
}
const priceAnnotations={id:'priceAnnotations',
  beforeDraw(c){
    const {ctx,chartArea:a,scales:{x}}=c;ctx.save();
    ctx.fillStyle='#d2e9fd';
    overnightBands.forEach(([s,e])=>{const l=x.getPixelForValue(s),r=x.getPixelForValue(e);ctx.fillRect(l,a.top,r-l,a.bottom-a.top)});
    ctx.fillStyle='#e2e2e2';
    sessionStripes.forEach(([b,w])=>ctx.fillRect(x.getPixelForValue(b)-w/2,a.top,w,a.bottom-a.top));
    ctx.restore();
  },
  beforeDatasetsDraw(c){
    const {ctx,scales:{x},chartArea:a}=c;ctx.save();
    bottomDateNotes.forEach(([t,d,b])=>{const px=x.getPixelForValue(b);txt(ctx,t,px,a.bottom-17,11,'#808080','center','#ffffff');txt(ctx,d,px,a.bottom-5,11,'#808080','center','#ffffff')});
    topTimeNotes.forEach(([t,b])=>txt(ctx,t,x.getPixelForValue(b),a.top+8,11,'#808080','center',t==='14:15'?null:'#ffffff'));
    ctx.restore();
  },
  afterDatasetsDraw(c){
    const {ctx,scales:{x,y},chartArea:a}=c;ctx.save();
    greyNotes.forEach(([t,b,p,al])=>txt(ctx,t,x.getPixelForValue(b),y.getPixelForValue(p),11,'#8a8a8a',al));
    swingHighs.forEach(([b,p])=>txt(ctx,p.toFixed(2),x.getPixelForValue(b)+1,y.getPixelForValue(p+hiOff)-12,13,'#1f8dff','center',null,.83));
    swingLows.forEach(([b,p])=>txt(ctx,p.toFixed(2),x.getPixelForValue(b)+1,y.getPixelForValue(p+loOff)+13,13,'#ff8585','center',null,.83));
    pocTags.forEach(([p,t])=>{const py=y.getPixelForValue(p);ctx.fillStyle='#ff7b7b';ctx.fillRect(a.right-31,py-6,31,12);txt(ctx,t,a.right-15.5,py,12,'#fff','center',null,.9)});
    ctx.strokeStyle='#8a8a8a';ctx.lineWidth=1;
    y.ticks.forEach(t=>{const py=Math.round(y.getPixelForValue(t.value))+.5;const L=t.value%5===0?10:3;ctx.beginPath();ctx.moveTo(a.right,py);ctx.lineTo(a.right+L,py);ctx.stroke()});
    priceTags.forEach(([p,t,col])=>{const py=y.getPixelForValue(p);ctx.fillStyle=col;ctx.fillRect(1870,py-6,44,12);txt(ctx,t,1892,py,13,'#fff','center',null,.85)});
    const ay=y.getPixelForValue(2165.25);ctx.fillStyle='#ffb8b8';ctx.beginPath();ctx.moveTo(1864,ay);ctx.lineTo(1871,ay-4);ctx.lineTo(1871,ay+4);ctx.closePath();ctx.fill();
    ctx.restore();
  }};
const volAnnotations={id:'volAnnotations',
  afterDraw(c){
    const {ctx,scales:{y},chartArea:a}=c;ctx.save();
    ctx.strokeStyle='#8a8a8a';ctx.lineWidth=1;
    y.ticks.forEach(t=>{const py=Math.round(y.getPixelForValue(t.value))+.5;const L=t.value===100?10:3;ctx.beginPath();ctx.moveTo(a.right,py);ctx.lineTo(a.right+L,py);ctx.stroke()});
    ctx.fillStyle='#ff8888';ctx.fillRect(1872,a.bottom-9,42,9);
    ctx.beginPath();ctx.rect(1872,a.bottom-9,42,9);ctx.clip();
    txt(ctx,'9559',1875,a.bottom-4,12,'#fff','left',null,.9);
    ctx.restore();
  }};

function mk(tag,cls,css,text){const e=document.createElement(tag);if(cls)e.className=cls;if(css)e.style.cssText=css;if(text!=null)e.textContent=text;document.body.appendChild(e);return e}

[['PROF',23,36],['VWAP',60,40],['Day Mid',100,51],['Overnight Mid',151,86],['IBH',237,24],['IBL',261,24],['FIBR',285,31]].forEach(([t,x,w])=>mk('div','btn',`left:${x}px;width:${w}px`,t));
mk('div','abs','left:5px;top:5px;width:13px;height:13px;border-radius:50%;background:#555;border:1px solid #333;box-sizing:border-box');
mk('div','abs','left:9px;top:2px;width:5px;height:3px;background:#555');
mk('div','abs','left:1854px;top:5px;width:8px;height:8px;border:1px solid #333;background:#fff');
mk('div','abs','left:1875px;top:10px;width:10px;height:1px;background:#333');
mk('div','abs','left:1897px;top:5px;width:9px;height:9px;border:1px solid #333');
mk('div','bar','top:21px;height:16px');
mk('div','abs','left:0;top:23px;width:14px;height:13px;font-size:12px;line-height:13px;text-align:center;color:#666;border-right:1px solid #999','×');
[[19,'#b9f0b0'],[29,'#ffc2c2']].forEach(([x,c])=>mk('div','dot',`left:${x}px;width:7px;background:${c}`));
mk('div','lg','left:40px','ESU6 (15m)-08/25/16 00:00 CL=2175.50 OP=2175.25 Hi=2175.75 Lo=2175.00');
[[434,'#ff00e0','CI=0',442],[472,'#ff00e0','CI=0',480],[510,'#0000ff','CI=0',518],[547,'#000','PROF*',555],[593,'#000','PAINT FALSE',601],[669,'#1a8a1a','REF Working Orders',677],[784,'#ff0000','REF Fill=0',792]].forEach(([d,c,t,x])=>{mk('div','dot',`left:${d}px;background:${c};border-color:${c}`);mk('div','lg',`left:${x}px`,t)});
mk('div','bar','top:843px;height:14px');
mk('div','abs','left:0;top:845px;width:14px;height:12px;font-size:12px;line-height:12px;text-align:center;color:#666;border-right:1px solid #999','×');
mk('div','dot','left:20px;top:846px;height:10px;background:#66ff66');
mk('div','lg','left:28px;top:845px','VOL=659');
mk('div','abtn','top:38px','A');mk('div','abtn','top:858px','A');
mk('div','abs','left:51px;top:965px;width:1812px;height:2px;background:#8a8a8a');
mk('div','abs','left:1863px;top:857px;width:1px;height:110px;background:#8a8a8a');
mk('div','abs','left:51px;top:968px;font-size:11px;line-height:13px;color:#777','Chart by Investor/RT, Linn Software, Inc. www.linnsoft.com - <ES CHART MASTER 8.26.16>: ESU6 (15m), ESU6 (1m*) 15 Minutes, Full Session 7 - 2016-08-26 11:16:28');
mk('div','abs',"left:9px;top:929px;font:bold 60px/54px 'Liberation Serif';color:#1f6fa8;transform:scaleX(.85);transform-origin:left",'R');
mk('div','abs',"left:8px;top:956px;font:bold 5px/5px 'Liberation Sans';color:#fff;background:#000;padding:0 3px",'INVESTOR');

function cv(l,t,w,h){const c=document.createElement('canvas');c.style.cssText=`left:${l}px;top:${t}px;width:${w}px;height:${h}px`;c.width=w;c.height=h;document.body.appendChild(c);return c}
Chart.defaults.animation=false;Chart.defaults.responsive=false;Chart.defaults.devicePixelRatio=1;
const noPad=s=>{s.paddingLeft=s.paddingRight=s.paddingTop=s.paddingBottom=0};

new Chart(cv(0,37,1914,806),{type:'line',data:{datasets},plugins:[priceAnnotations],options:{
  maintainAspectRatio:false,layout:{padding:0,autoPadding:false},events:[],
  plugins:{legend:{display:false},tooltip:{enabled:false}},
  scales:{
    x:{type:'linear',position:'bottom',bounds:'data',min:firstBar,max:lastBar,offset:false,
      afterBuildTicks:s=>{s.ticks=timeTickBars.map(v=>({value:v}));s.min=firstBar;s.max=lastBar},afterFit:s=>{s.height=0;noPad(s)},
      ticks:{display:false},border:{display:false},grid:{offset:false,color:'#eeeeee',drawTicks:false,lineWidth:1}},
    y:{type:'linear',position:'right',bounds:'data',min:priceMin,max:priceMax,offset:false,
      afterBuildTicks:s=>{s.ticks=priceTickValues.map(v=>({value:v}));s.min=priceMin;s.max=priceMax},afterFit:s=>{s.width=51;noPad(s)},
      border:{color:'#8a8a8a'},
      grid:{offset:false,drawTicks:false,color:c=>c.tick&&c.tick.value%5===0?'#eeeeee':'rgba(0,0,0,0)'},
      ticks:{autoSkip:false,padding:11,color:'#808080',font:{family:AXISFONT,size:10.5},callback:v=>v%5===0?String(v):''}}
  }}});

new Chart(cv(0,857,1914,108),{type:'bar',data:{datasets:[
  {data:pts(volUp),backgroundColor:'#66ff66',barThickness:3,grouped:false},
  {data:pts(volDown),backgroundColor:'#ff8888',barThickness:3,grouped:false}
]},plugins:[volAnnotations],options:{
  maintainAspectRatio:false,layout:{padding:0,autoPadding:false},events:[],
  plugins:{legend:{display:false},tooltip:{enabled:false}},
  scales:{
    x:{type:'linear',position:'bottom',bounds:'data',min:firstBar,max:lastBar,offset:false,
      afterBuildTicks:s=>{s.ticks=timeTickBars.map(v=>({value:v}));s.min=firstBar;s.max=lastBar},afterFit:s=>{s.height=24;noPad(s)},
      border:{color:'#777777',width:2},
      grid:{offset:false,color:'#eeeeee',tickColor:'#8a8a8a',tickLength:6},
      ticks:{autoSkip:false,maxRotation:0,padding:5,color:'#808080',font:{family:AXISFONT,size:10.5},
        callback:(v,i)=>timeTickLabels[i]}},
    y:{type:'linear',position:'right',bounds:'data',min:0,max:202,offset:false,
      afterBuildTicks:s=>{s.ticks=volTickValues.map(v=>({value:v}));s.min=0;s.max=202},afterFit:s=>{s.width=51;noPad(s)},
      border:{color:'#8a8a8a'},
      grid:{offset:false,drawTicks:false,color:c=>c.tick&&c.tick.value===100?'#eeeeee':'rgba(0,0,0,0)'},
      ticks:{autoSkip:false,padding:11,color:'#808080',font:{family:AXISFONT,size:10.5},callback:v=>v===100?'100k':''}}
  }}});
</script>
</body></html>
